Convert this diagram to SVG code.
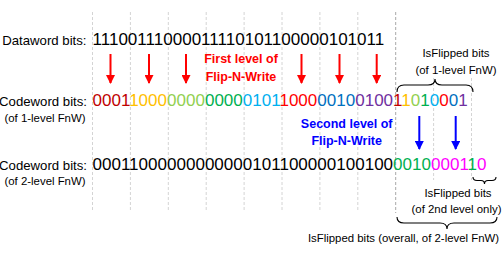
<svg xmlns="http://www.w3.org/2000/svg" width="503" height="261" viewBox="0 0 503 261">
<defs>
<style>
.grid{stroke:#d4d4d4;stroke-width:1;stroke-dasharray:3 2;fill:none}
.gridd{stroke:#a8a8a8;stroke-width:1;stroke-dasharray:3 2;fill:none}
.lbl{font-family:"Liberation Sans",Arial,sans-serif;font-size:13.2px;fill:#000}
.sub{font-family:"Liberation Sans",Arial,sans-serif;font-size:11.4px;fill:#000}
.bits{font-family:"Liberation Sans",Arial,sans-serif;font-size:17.04px;fill:#000}
.bold{font-family:"Liberation Sans",Arial,sans-serif;font-size:12.5px;font-weight:bold}
.brace{fill:none;stroke:#000;stroke-width:1.1}
.ra{stroke:#ff0000;stroke-width:2;fill:none}
.ba{stroke:#0000ff;stroke-width:2;fill:none}
.c1{fill:#c00000}.c2{fill:#ffc000}.c3{fill:#92d050}.c4{fill:#00b050}
.c5{fill:#00b0f0}.c6{fill:#ff0000}.c7{fill:#0070c0}.c8{fill:#7030a0}.cm{fill:#ff00ff}
</style>
<marker id="ahr" markerUnits="userSpaceOnUse" markerWidth="9" markerHeight="9" viewBox="0 0 9 9" refX="8" refY="4.5" orient="auto">
<path d="M0,0 L9,4.5 L0,9 Z" fill="#ff0000"/>
</marker>
<marker id="ahb" markerUnits="userSpaceOnUse" markerWidth="9" markerHeight="9" viewBox="0 0 9 9" refX="8" refY="4.5" orient="auto">
<path d="M0,0 L9,4.5 L0,9 Z" fill="#0000ff"/>
</marker>
</defs>
<rect width="503" height="261" fill="#fff"/>

<g id="grid">
<line class="grid" x1="92.5" y1="12" x2="92.5" y2="212"/>
<line class="grid" x1="130.4" y1="12" x2="130.4" y2="212"/>
<line class="grid" x1="168.3" y1="12" x2="168.3" y2="212"/>
<line class="grid" x1="206.2" y1="12" x2="206.2" y2="212"/>
<line class="grid" x1="244.1" y1="12" x2="244.1" y2="212"/>
<line class="grid" x1="282" y1="12" x2="282" y2="212"/>
<line class="grid" x1="319.9" y1="12" x2="319.9" y2="212"/>
<line class="grid" x1="357.8" y1="12" x2="357.8" y2="212"/>
<line class="gridd" x1="395.7" y1="12" x2="395.7" y2="213"/>
<line class="grid" x1="433.6" y1="78" x2="433.6" y2="180"/>
<line class="grid" x1="471.5" y1="78" x2="471.5" y2="180"/>
</g>

<g id="labels">
<text class="lbl" x="86.5" y="45" text-anchor="end">Dataword bits:</text>
<text class="lbl" x="87" y="106" text-anchor="end">Codeword bits:</text>
<text class="sub" x="45" y="122" text-anchor="middle">(of 1-level FnW)</text>
<text class="lbl" x="87" y="170" text-anchor="end">Codeword bits:</text>
<text class="sub" x="45" y="185" text-anchor="middle">(of 2-level FnW)</text>
</g>

<g id="dataword">
<text class="bits" x="92.5" y="45">11100111000011110101100000101011</text>
</g>

<g id="codeword1">
<text class="bits" x="92.5" y="106"><tspan class="c1">0001</tspan><tspan class="c2">1000</tspan><tspan class="c3">0000</tspan><tspan class="c4">0000</tspan><tspan class="c5">0101</tspan><tspan class="c6">1000</tspan><tspan class="c7">0010</tspan><tspan class="c8">0100</tspan><tspan class="c1">1</tspan><tspan class="c2">1</tspan><tspan class="c3">0</tspan><tspan class="c4">1</tspan><tspan class="c5">0</tspan><tspan class="c6">0</tspan><tspan class="c7">0</tspan><tspan class="c8">1</tspan></text>
</g>

<g id="codeword2">
<text class="bits" x="92.5" y="170">00011000000000000101100000100100<tspan class="c4">0010</tspan><tspan class="cm">0001</tspan><tspan class="c4">1</tspan><tspan class="cm">0</tspan></text>
</g>

<g id="connectors">
<line class="ra" x1="110.5" y1="54" x2="110.5" y2="83" marker-end="url(#ahr)"/>
<line class="ra" x1="149" y1="54" x2="149" y2="83" marker-end="url(#ahr)"/>
<line class="ra" x1="186" y1="54" x2="186" y2="83" marker-end="url(#ahr)"/>
<line class="ra" x1="301.5" y1="54" x2="301.5" y2="83" marker-end="url(#ahr)"/>
<line class="ra" x1="339.5" y1="54" x2="339.5" y2="83" marker-end="url(#ahr)"/>
<line class="ra" x1="376.7" y1="54" x2="376.7" y2="83" marker-end="url(#ahr)"/>
<line class="ba" x1="419.3" y1="116" x2="419.3" y2="149" marker-end="url(#ahb)"/>
<line class="ba" x1="455.7" y1="116" x2="455.7" y2="149" marker-end="url(#ahb)"/>
</g>

<g id="first-level">
<text class="bold" x="241" y="63" text-anchor="middle" fill="#ff0000">First level of</text>
<text class="bold" x="241" y="81" text-anchor="middle" fill="#ff0000">Flip-N-Write</text>
</g>

<g id="second-level">
<text class="bold" x="346.7" y="128" text-anchor="middle" fill="#0000ff">Second level of</text>
<text class="bold" x="346.7" y="145" text-anchor="middle" fill="#0000ff">Flip-N-Write</text>
</g>

<g id="isflipped-1">
<text class="sub" x="456" y="57" text-anchor="middle">IsFlipped bits</text>
<text class="sub" x="456" y="74" text-anchor="middle">(of 1-level FnW)</text>
<path class="brace" d="M397,92 Q397,85 404,85 L428,85 Q435,85 435,79 Q435,85 442,85 L466,85 Q473,85 473,92"/>
</g>

<g id="isflipped-2nd">
<path class="brace" d="M473,177 Q473,180.5 477,180.5 L481,180.5 Q484.5,180.5 484.5,184 Q484.5,180.5 488,180.5 L492,180.5 Q496,180.5 496,177"/>
<text class="sub" x="458" y="197" text-anchor="middle">IsFlipped bits</text>
<text class="sub" x="456.5" y="213" text-anchor="middle">(of 2nd level only)</text>
</g>

<g id="isflipped-overall">
<path class="brace" d="M397,217 Q397,223 404,223 L440,223 Q447,223 447,229 Q447,223 454,223 L490,223 Q497,223 497,217"/>
<text class="sub" x="403.5" y="241.5" text-anchor="middle">IsFlipped bits (overall, of 2-level FnW)</text>
</g>
</svg>
